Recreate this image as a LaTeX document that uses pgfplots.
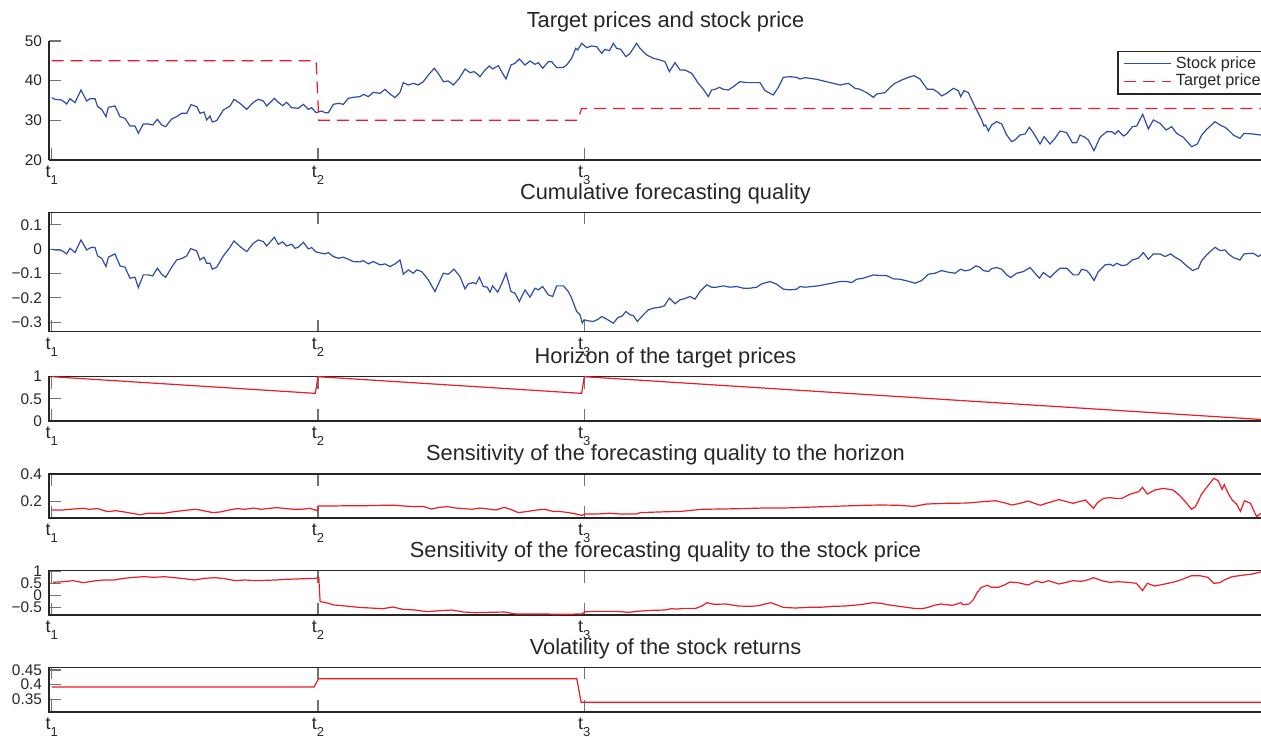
\documentclass[border=0pt]{standalone}
\usepackage{pgfplots}
\pgfplotsset{compat=1.18}
\usepackage{fontspec}
\setmainfont{Liberation Sans}
\definecolor{mblue}{RGB}{46,77,170}
\definecolor{mred}{RGB}{237,28,36}
\newcommand{\tl}[1]{{\fontsize{9}{9}\selectfont t}\raisebox{-0.85ex}{\fontsize{6.5}{6.5}\selectfont #1}}
\pgfplotsset{
  base/.style={
    anchor=north west, scale only axis, width=616.5pt,
    xmin=-0.0101, xmax=4.62,
    xtick={0,1,2}, xticklabels={\tl{1},\tl{2},\tl{3}},
    tick align=inside, major tick length=6pt,
    tick style={black!55, line width=0.55pt},
    axis line style={black!85, line width=0.75pt},
    tick label style={font=\fontsize{7.7}{8}\selectfont, text=black!85},
    xticklabel style={yshift=0.5pt},
    every axis title/.style={at={(0.5,1)}, anchor=base, yshift=6.6pt, font=\fontsize{10.9}{12}\selectfont, text=black!85},
  },
  redline/.style={mred, line width=0.6pt},
}
\begin{document}
\begin{tikzpicture}
% ---------- 1 ----------
\begin{axis}[base, at={(24.5pt,-20.5pt)}, height=59.5pt,
  ymin=20, ymax=50, ytick={20,30,40,50}, yticklabels={20,30,40,50},
  axis x line*=bottom, axis y line*=left,
  axis line style={-},
  title={Target prices and stock price},
  legend style={at={(0.866,0.92)}, anchor=north west, draw=black!85, line width=0.9pt, fill=white,
    font=\fontsize{8.1}{9}\selectfont, text=black!85, inner xsep=3pt, inner ysep=0.5pt, row sep=-2.5pt,
    cells={anchor=west}},
  legend image code/.code={\draw[#1, line width=0.6pt] (0pt,0pt) -- (23.5pt,0pt);},
]
\addplot[mblue, line width=0.6pt] coordinates {
(0,35.72)(0.0124,35.30)(0.0374,35.13)(0.0562,34.12)(0.0687,35.46)(0.0875,34.45)(0.1100,37.65)(0.1313,34.87)(0.1439,35.46)(0.1626,35.46)(0.1726,33.45)(0.1877,32.77)(0.2039,30.93)(0.2127,33.28)(0.2377,33.61)(0.2565,30.93)(0.2753,30.51)(0.2941,28.57)(0.3128,28.57)(0.3254,26.73)(0.3441,29.08)(0.3629,29.08)(0.3792,28.82)(0.3967,30.25)(0.4130,28.82)(0.4280,28.40)(0.4505,30.34)(0.4693,30.93)(0.4881,31.77)(0.5069,31.77)(0.5231,33.95)(0.5444,33.45)(0.5569,31.77)(0.5720,32.10)(0.5820,30.09)(0.5945,31.09)(0.6032,29.58)(0.6195,29.92)(0.6446,32.61)(0.6696,33.61)(0.6846,35.30)(0.7071,34.29)(0.7322,32.77)(0.7572,34.54)(0.7760,35.30)(0.7948,34.87)(0.8073,33.61)(0.8361,35.55)(0.8511,34.54)(0.8674,33.70)(0.8824,34.54)(0.9012,33.19)(0.9262,33.03)(0.9450,34.03)(0.9637,32.77)(0.9763,33.19)(0.9925,31.93)(1.0138,32.35)(1.0263,31.93)(1.0389,31.93)(1.0576,34.03)(1.0764,34.29)(1.0952,34.03)(1.1139,35.55)(1.1327,35.80)(1.1578,35.97)(1.1703,36.55)(1.1890,35.97)(1.2078,37.06)(1.2329,36.81)(1.2516,37.82)(1.2704,36.64)(1.2892,35.72)(1.3080,37.06)(1.3204,39.50)(1.3392,38.91)(1.3580,39.33)(1.3767,38.91)(1.3955,39.75)(1.4143,41.43)(1.4368,43.11)(1.4556,41.43)(1.4706,39.75)(1.4894,39.92)(1.5082,38.91)(1.5307,40.59)(1.5520,42.94)(1.5708,42.02)(1.5858,42.27)(1.5983,41.68)(1.6083,41.01)(1.6271,42.69)(1.6434,43.70)(1.6559,42.94)(1.6772,43.78)(1.6897,42.27)(1.7060,40.42)(1.7247,43.95)(1.7397,44.37)(1.7560,45.46)(1.7773,43.95)(1.7961,44.96)(1.8148,44.12)(1.8274,44.54)(1.8436,43.11)(1.8649,44.79)(1.8774,44.79)(1.8962,43.28)(1.9212,43.36)(1.9338,43.95)(1.9525,45.63)(1.9676,48.15)(1.9751,47.73)(1.9901,49.41)(2.0089,48.32)(2.0276,48.74)(2.0464,48.57)(2.0652,46.89)(2.0777,47.90)(2.0940,47.56)(2.1090,49.41)(2.1215,48.15)(2.1365,47.90)(2.1566,46.05)(2.1716,46.89)(2.1966,49.41)(2.2091,48.15)(2.2342,46.47)(2.2592,45.63)(2.2843,45.21)(2.3030,44.79)(2.3193,42.27)(2.3406,44.54)(2.3594,42.69)(2.3781,42.69)(2.4032,41.85)(2.4282,39.33)(2.4470,37.82)(2.4657,35.97)(2.4783,37.65)(2.4908,37.82)(2.5071,38.32)(2.5221,37.82)(2.5409,37.65)(2.5596,38.49)(2.5847,39.75)(2.6097,39.50)(2.6347,39.50)(2.6598,39.50)(2.6786,37.48)(2.6973,36.81)(2.7098,36.39)(2.7286,38.32)(2.7474,40.84)(2.7723,41.01)(2.7974,40.84)(2.8099,40.42)(2.8287,40.76)(2.8475,40.59)(2.8726,40.34)(2.9602,38.91)(2.9915,39.33)(3.0165,38.07)(3.0353,37.82)(3.0603,36.98)(3.0854,35.80)(3.0979,36.64)(3.1292,36.98)(3.1480,38.32)(3.1667,39.33)(3.1918,40.17)(3.2168,40.84)(3.2381,41.26)(3.2606,40.42)(3.2882,37.82)(3.3107,37.82)(3.3295,36.98)(3.3420,36.14)(3.3608,36.81)(3.3858,38.07)(3.4046,37.48)(3.4133,35.97)(3.4258,37.48)(3.4421,36.98)(3.4609,34.29)(3.4797,31.77)(3.4922,30.09)(3.5009,28.57)(3.5072,28.82)(3.5172,27.31)(3.5297,28.82)(3.5485,29.66)(3.5673,29.08)(3.5861,26.30)(3.6048,24.62)(3.6174,25.04)(3.6361,26.30)(3.6549,26.55)(3.6712,28.24)(3.6862,26.89)(3.7112,24.03)(3.7263,25.88)(3.7488,24.03)(3.7676,25.46)(3.7863,27.31)(3.8114,26.89)(3.8326,24.37)(3.8489,24.37)(3.8614,26.30)(3.8802,25.71)(3.8927,25.04)(3.9140,22.35)(3.9365,25.71)(3.9616,27.14)(3.9804,27.14)(3.9929,26.55)(4.0054,27.39)(4.0242,26.05)(4.0367,26.55)(4.0580,28.40)(4.0742,28.57)(4.0968,31.51)(4.1180,27.81)(4.1368,30.09)(4.1618,29.25)(4.1844,27.56)(4.2057,28.40)(4.2244,26.72)(4.2494,25.71)(4.2807,23.36)(4.3020,24.03)(4.3183,26.30)(4.3371,27.73)(4.3684,29.66)(4.3872,28.82)(4.4060,28.24)(4.4185,27.56)(4.4372,26.30)(4.4622,25.46)(4.4773,26.72)(4.5123,26.55)(4.5374,26.30)(4.5800,26.70)(4.6200,26.40)
};
\addlegendentry{Stock price}
\addplot[mred, line width=0.6pt, dash pattern=on 6pt off 3.5pt] coordinates {
(0,45)(0.993,45)(1.003,30)(1.975,30)(1.990,33)(4.62,33)
};
\addlegendentry{Target price\hspace{12pt}}
\end{axis}
% ---------- 2 ----------
\begin{axis}[base, at={(24.5pt,-106.15pt)}, height=59.7pt,
  ymin=-0.339, ymax=0.152, ytick={-0.3,-0.2,-0.1,0,0.1},
  yticklabels={−0.3,−0.2,−0.1,0,0.1},
  title={Cumulative forecasting quality},
]
\addplot[mblue, line width=0.6pt] coordinates {
(0,0.0000)(0.0124,-0.0027)(0.0312,-0.0027)(0.0437,-0.0095)(0.0562,-0.0191)(0.0687,0.0041)(0.0875,-0.0136)(0.1100,0.0384)(0.1313,-0.0027)(0.1501,0.0083)(0.1626,0.0069)(0.1726,-0.0274)(0.1877,-0.0369)(0.2039,-0.0711)(0.2127,-0.0328)(0.2377,-0.0191)(0.2565,-0.0684)(0.2753,-0.0739)(0.2941,-0.1191)(0.3128,-0.1150)(0.3254,-0.1574)(0.3441,-0.1054)(0.3629,-0.1054)(0.3792,-0.1095)(0.3967,-0.0780)(0.4130,-0.1026)(0.4280,-0.1150)(0.4505,-0.0739)(0.4693,-0.0438)(0.4881,-0.0383)(0.5069,-0.0274)(0.5219,0.0028)(0.5444,-0.0068)(0.5569,-0.0438)(0.5720,-0.0328)(0.5820,-0.0575)(0.5945,-0.0575)(0.6032,-0.0821)(0.6195,-0.0739)(0.6446,-0.0274)(0.6696,0.0083)(0.6846,0.0343)(0.7071,0.0110)(0.7322,-0.0095)(0.7572,0.0247)(0.7760,0.0384)(0.7948,0.0315)(0.8073,0.0137)(0.8361,0.0493)(0.8511,0.0206)(0.8674,0.0302)(0.8824,0.0137)(0.9012,0.0206)(0.9137,0.0041)(0.9262,0.0083)(0.9450,0.0288)(0.9637,0.0014)(0.9763,0.0069)(0.9925,-0.0109)(1.0138,-0.0164)(1.0263,-0.0191)(1.0389,-0.0136)(1.0576,-0.0301)(1.0764,-0.0369)(1.0952,-0.0328)(1.1139,-0.0410)(1.1327,-0.0506)(1.1578,-0.0520)(1.1703,-0.0465)(1.1890,-0.0602)(1.2078,-0.0506)(1.2329,-0.0643)(1.2516,-0.0602)(1.2704,-0.0711)(1.2892,-0.0602)(1.3080,-0.0438)(1.3204,-0.1026)(1.3392,-0.0848)(1.3580,-0.0985)(1.3705,-0.0848)(1.3893,-0.0917)(1.4143,-0.1259)(1.4393,-0.1738)(1.4706,-0.0985)(1.4894,-0.1026)(1.5107,-0.0821)(1.5332,-0.1122)(1.5520,-0.1629)(1.5645,-0.1423)(1.5833,-0.1369)(1.5933,-0.1423)(1.6058,-0.1150)(1.6208,-0.1533)(1.6358,-0.1560)(1.6459,-0.1765)(1.6559,-0.1505)(1.6747,-0.1765)(1.6897,-0.1423)(1.7060,-0.0985)(1.7247,-0.1738)(1.7397,-0.1807)(1.7560,-0.2149)(1.7773,-0.1670)(1.7961,-0.1971)(1.8148,-0.1601)(1.8274,-0.1670)(1.8436,-0.1533)(1.8649,-0.1875)(1.8812,-0.1944)(1.8962,-0.1505)(1.9212,-0.1505)(1.9400,-0.1738)(1.9525,-0.2012)(1.9713,-0.2560)(1.9838,-0.2696)(1.9926,-0.3039)(1.9989,-0.2902)(2.0151,-0.2943)(2.0339,-0.2970)(2.0527,-0.2874)(2.0652,-0.2765)(2.0840,-0.2874)(2.1090,-0.3039)(2.1278,-0.2792)(2.1403,-0.2765)(2.1566,-0.2560)(2.1716,-0.2696)(2.1841,-0.2724)(2.1991,-0.2970)(2.2216,-0.2696)(2.2404,-0.2491)(2.2592,-0.2423)(2.2843,-0.2382)(2.3005,-0.2327)(2.3193,-0.2012)(2.3406,-0.2245)(2.3594,-0.2081)(2.3781,-0.2026)(2.3969,-0.1944)(2.4157,-0.2053)(2.4345,-0.1738)(2.4595,-0.1464)(2.4783,-0.1560)(2.4970,-0.1560)(2.5221,-0.1505)(2.5471,-0.1560)(2.5721,-0.1533)(2.5972,-0.1601)(2.6222,-0.1601)(2.6472,-0.1560)(2.6660,-0.1423)(2.6973,-0.1327)(2.7223,-0.1437)(2.7474,-0.1642)(2.7723,-0.1670)(2.7974,-0.1642)(2.8099,-0.1533)(2.8287,-0.1560)(2.8537,-0.1533)(2.8788,-0.1505)(2.9602,-0.1327)(2.9852,-0.1327)(3.0040,-0.1369)(3.0228,-0.1232)(3.0478,-0.1191)(3.0666,-0.1122)(3.0854,-0.1054)(3.1104,-0.1081)(3.1354,-0.1081)(3.1605,-0.1218)(3.1855,-0.1232)(3.2105,-0.1300)(3.2418,-0.1396)(3.2669,-0.1286)(3.2919,-0.1026)(3.3169,-0.0985)(3.3420,-0.0876)(3.3670,-0.0944)(3.3920,-0.0985)(3.4133,-0.0821)(3.4296,-0.0889)(3.4484,-0.0848)(3.4709,-0.0684)(3.4859,-0.0739)(3.4984,-0.0876)(3.5172,-0.0917)(3.5297,-0.0793)(3.5485,-0.0752)(3.5673,-0.0821)(3.5861,-0.1054)(3.6011,-0.1163)(3.6236,-0.0985)(3.6487,-0.0917)(3.6737,-0.0752)(3.6925,-0.0985)(3.7087,-0.1191)(3.7237,-0.0958)(3.7488,-0.1163)(3.7676,-0.0958)(3.7863,-0.0780)(3.8114,-0.0780)(3.8364,-0.1054)(3.8552,-0.1054)(3.8677,-0.0821)(3.8865,-0.0876)(3.8990,-0.1026)(3.9140,-0.1286)(3.9303,-0.0917)(3.9553,-0.0643)(3.9741,-0.0616)(3.9866,-0.0684)(3.9991,-0.0575)(4.0179,-0.0670)(4.0367,-0.0643)(4.0580,-0.0438)(4.0805,-0.0369)(4.0993,-0.0137)(4.1180,-0.0410)(4.1368,-0.0191)(4.1618,-0.0191)(4.1806,-0.0301)(4.2019,-0.0191)(4.2182,-0.0328)(4.2369,-0.0438)(4.2620,-0.0684)(4.2845,-0.0876)(4.3058,-0.0780)(4.3183,-0.0465)(4.3371,-0.0232)(4.3684,0.0082)(4.3872,-0.0055)(4.4060,-0.0027)(4.4185,-0.0191)(4.4372,-0.0342)(4.4622,-0.0438)(4.4773,-0.0191)(4.5123,-0.0164)(4.5311,-0.0301)(4.5400,-0.0232)(4.5800,-0.0200)(4.6200,-0.0250)
};
\end{axis}
% ---------- 3 ----------
\begin{axis}[base, at={(24.5pt,-188.35pt)}, height=22.15pt,
  ymin=0, ymax=1, ytick={0,0.5,1}, yticklabels={0,0.5,1},
  title={Horizon of the target prices},
]
\addplot[redline] coordinates {
(0,1)(0.990,0.624)(1.000,1)(1.990,0.624)(2.000,1)(4.62,0.004)
};
\end{axis}
% ---------- 4 ----------
\begin{axis}[base, at={(24.5pt,-237pt)}, height=22pt,
  ymin=0.082, ymax=0.4, ytick={0.2,0.4}, yticklabels={0.2,0.4},
  title={Sensitivity of the forecasting quality to the horizon},
]
\addplot[redline] coordinates {
(0,0.140)(0.043,0.140)(0.081,0.147)(0.119,0.152)(0.141,0.145)(0.172,0.150)(0.210,0.128)(0.240,0.135)(0.271,0.126)(0.301,0.116)(0.331,0.106)(0.362,0.116)(0.392,0.116)(0.422,0.116)(0.453,0.126)(0.483,0.133)(0.514,0.140)(0.544,0.145)(0.574,0.133)(0.605,0.121)(0.635,0.126)(0.666,0.140)(0.696,0.150)(0.726,0.145)(0.757,0.154)(0.787,0.145)(0.818,0.152)(0.848,0.157)(0.878,0.150)(0.909,0.145)(0.939,0.145)(0.970,0.152)(0.997,0.135)(1.002,0.169)(1.061,0.169)(1.122,0.171)(1.182,0.171)(1.243,0.174)(1.289,0.174)(1.319,0.169)(1.365,0.164)(1.395,0.166)(1.426,0.147)(1.456,0.159)(1.486,0.164)(1.517,0.154)(1.547,0.150)(1.578,0.145)(1.608,0.154)(1.638,0.147)(1.669,0.140)(1.699,0.159)(1.729,0.140)(1.752,0.121)(1.790,0.130)(1.821,0.140)(1.851,0.145)(1.881,0.130)(1.912,0.128)(1.942,0.121)(1.973,0.109)(1.991,0.101)(2.003,0.111)(2.049,0.111)(2.094,0.116)(2.134,0.111)(2.195,0.111)(2.211,0.121)(2.287,0.126)(2.364,0.130)(2.441,0.145)(2.517,0.147)(2.594,0.150)(2.670,0.154)(2.747,0.154)(2.824,0.159)(2.900,0.164)(2.977,0.169)(3.054,0.174)(3.115,0.176)(3.176,0.174)(3.238,0.166)(3.284,0.183)(3.360,0.188)(3.437,0.190)(3.483,0.198)(3.544,0.207)(3.575,0.193)(3.606,0.176)(3.636,0.188)(3.667,0.205)(3.690,0.188)(3.713,0.174)(3.743,0.193)(3.782,0.215)(3.812,0.200)(3.835,0.188)(3.858,0.200)(3.881,0.212)(3.912,0.152)(3.927,0.193)(3.950,0.224)(3.973,0.229)(3.996,0.224)(4.019,0.224)(4.050,0.255)(4.081,0.272)(4.096,0.304)(4.114,0.255)(4.142,0.284)(4.173,0.296)(4.211,0.284)(4.234,0.248)(4.257,0.200)(4.280,0.145)(4.295,0.164)(4.318,0.255)(4.341,0.313)(4.364,0.369)(4.380,0.352)(4.395,0.289)(4.403,0.323)(4.418,0.260)(4.433,0.212)(4.449,0.183)(4.464,0.130)(4.479,0.207)(4.502,0.188)(4.517,0.121)(4.525,0.092)(4.537,0.111)(4.580,0.130)(4.620,0.120)
};
\end{axis}
% ---------- 5 ----------
\begin{axis}[base, at={(24.5pt,-285.35pt)}, height=22.15pt,
  ymin=-0.82, ymax=1.025, ytick={-0.5,0,0.5,1}, yticklabels={−0.5,0,0.5,1},
  title={Sensitivity of the forecasting quality to the stock price},
]
\addplot[redline] coordinates {
(0.005,0.540)(0.043,0.568)(0.081,0.610)(0.119,0.526)(0.157,0.596)(0.195,0.638)(0.233,0.638)(0.271,0.707)(0.309,0.749)(0.347,0.777)(0.385,0.749)(0.422,0.777)(0.460,0.735)(0.498,0.693)(0.536,0.638)(0.574,0.707)(0.612,0.735)(0.650,0.693)(0.688,0.610)(0.726,0.638)(0.764,0.610)(0.802,0.624)(0.840,0.638)(0.878,0.665)(0.916,0.679)(0.954,0.693)(0.992,0.707)(1.003,0.749)(1.008,-0.265)(1.030,-0.307)(1.061,-0.404)(1.106,-0.446)(1.152,-0.501)(1.198,-0.529)(1.243,-0.557)(1.281,-0.487)(1.319,-0.585)(1.365,-0.612)(1.410,-0.682)(1.456,-0.640)(1.502,-0.612)(1.547,-0.696)(1.593,-0.724)(1.638,-0.710)(1.699,-0.696)(1.745,-0.779)(1.790,-0.779)(1.851,-0.779)(1.927,-0.793)(1.973,-0.779)(1.992,-0.779)(2.003,-0.682)(2.064,-0.668)(2.125,-0.668)(2.165,-0.710)(2.211,-0.654)(2.257,-0.626)(2.303,-0.612)(2.326,-0.557)(2.349,-0.571)(2.379,-0.543)(2.418,-0.543)(2.441,-0.446)(2.461,-0.307)(2.487,-0.376)(2.533,-0.362)(2.579,-0.446)(2.624,-0.460)(2.655,-0.432)(2.678,-0.362)(2.701,-0.307)(2.724,-0.404)(2.747,-0.501)(2.793,-0.529)(2.839,-0.501)(2.885,-0.501)(2.931,-0.460)(2.977,-0.446)(3.023,-0.404)(3.054,-0.362)(3.084,-0.307)(3.115,-0.335)(3.146,-0.404)(3.192,-0.473)(3.238,-0.543)(3.268,-0.557)(3.291,-0.501)(3.314,-0.418)(3.337,-0.362)(3.360,-0.390)(3.383,-0.418)(3.399,-0.362)(3.414,-0.307)(3.422,-0.390)(3.445,-0.362)(3.460,-0.196)(3.475,0.110)(3.491,0.332)(3.514,0.416)(3.529,0.332)(3.552,0.332)(3.575,0.416)(3.598,0.554)(3.628,0.527)(3.667,0.429)(3.697,0.596)(3.720,0.527)(3.743,0.610)(3.782,0.471)(3.805,0.527)(3.835,0.610)(3.866,0.582)(3.889,0.638)(3.912,0.735)(3.943,0.610)(3.973,0.541)(4.004,0.568)(4.042,0.541)(4.073,0.499)(4.096,0.193)(4.114,0.499)(4.142,0.388)(4.180,0.471)(4.219,0.568)(4.249,0.679)(4.280,0.818)(4.311,0.818)(4.341,0.749)(4.364,0.499)(4.387,0.527)(4.403,0.638)(4.433,0.777)(4.479,0.846)(4.510,0.888)(4.537,0.971)(4.580,0.990)(4.620,1.000)
};
\end{axis}
% ---------- 6 ----------
\begin{axis}[base, at={(24.5pt,-333.65pt)}, height=22.35pt,
  ymin=0.307, ymax=0.459, ytick={0.35,0.4,0.45}, yticklabels={0.35,0.4,0.45},
  title={Volatility of the stock returns},
]
\addplot[redline] coordinates {
(0,0.392)(0.985,0.392)(1.002,0.420)(1.972,0.420)(1.988,0.340)(4.62,0.340)
};
\end{axis}
\pgfresetboundingbox
\path[use as bounding box] (0pt,0pt) rectangle (630.5pt,-368.5pt);
\end{tikzpicture}
\end{document}
